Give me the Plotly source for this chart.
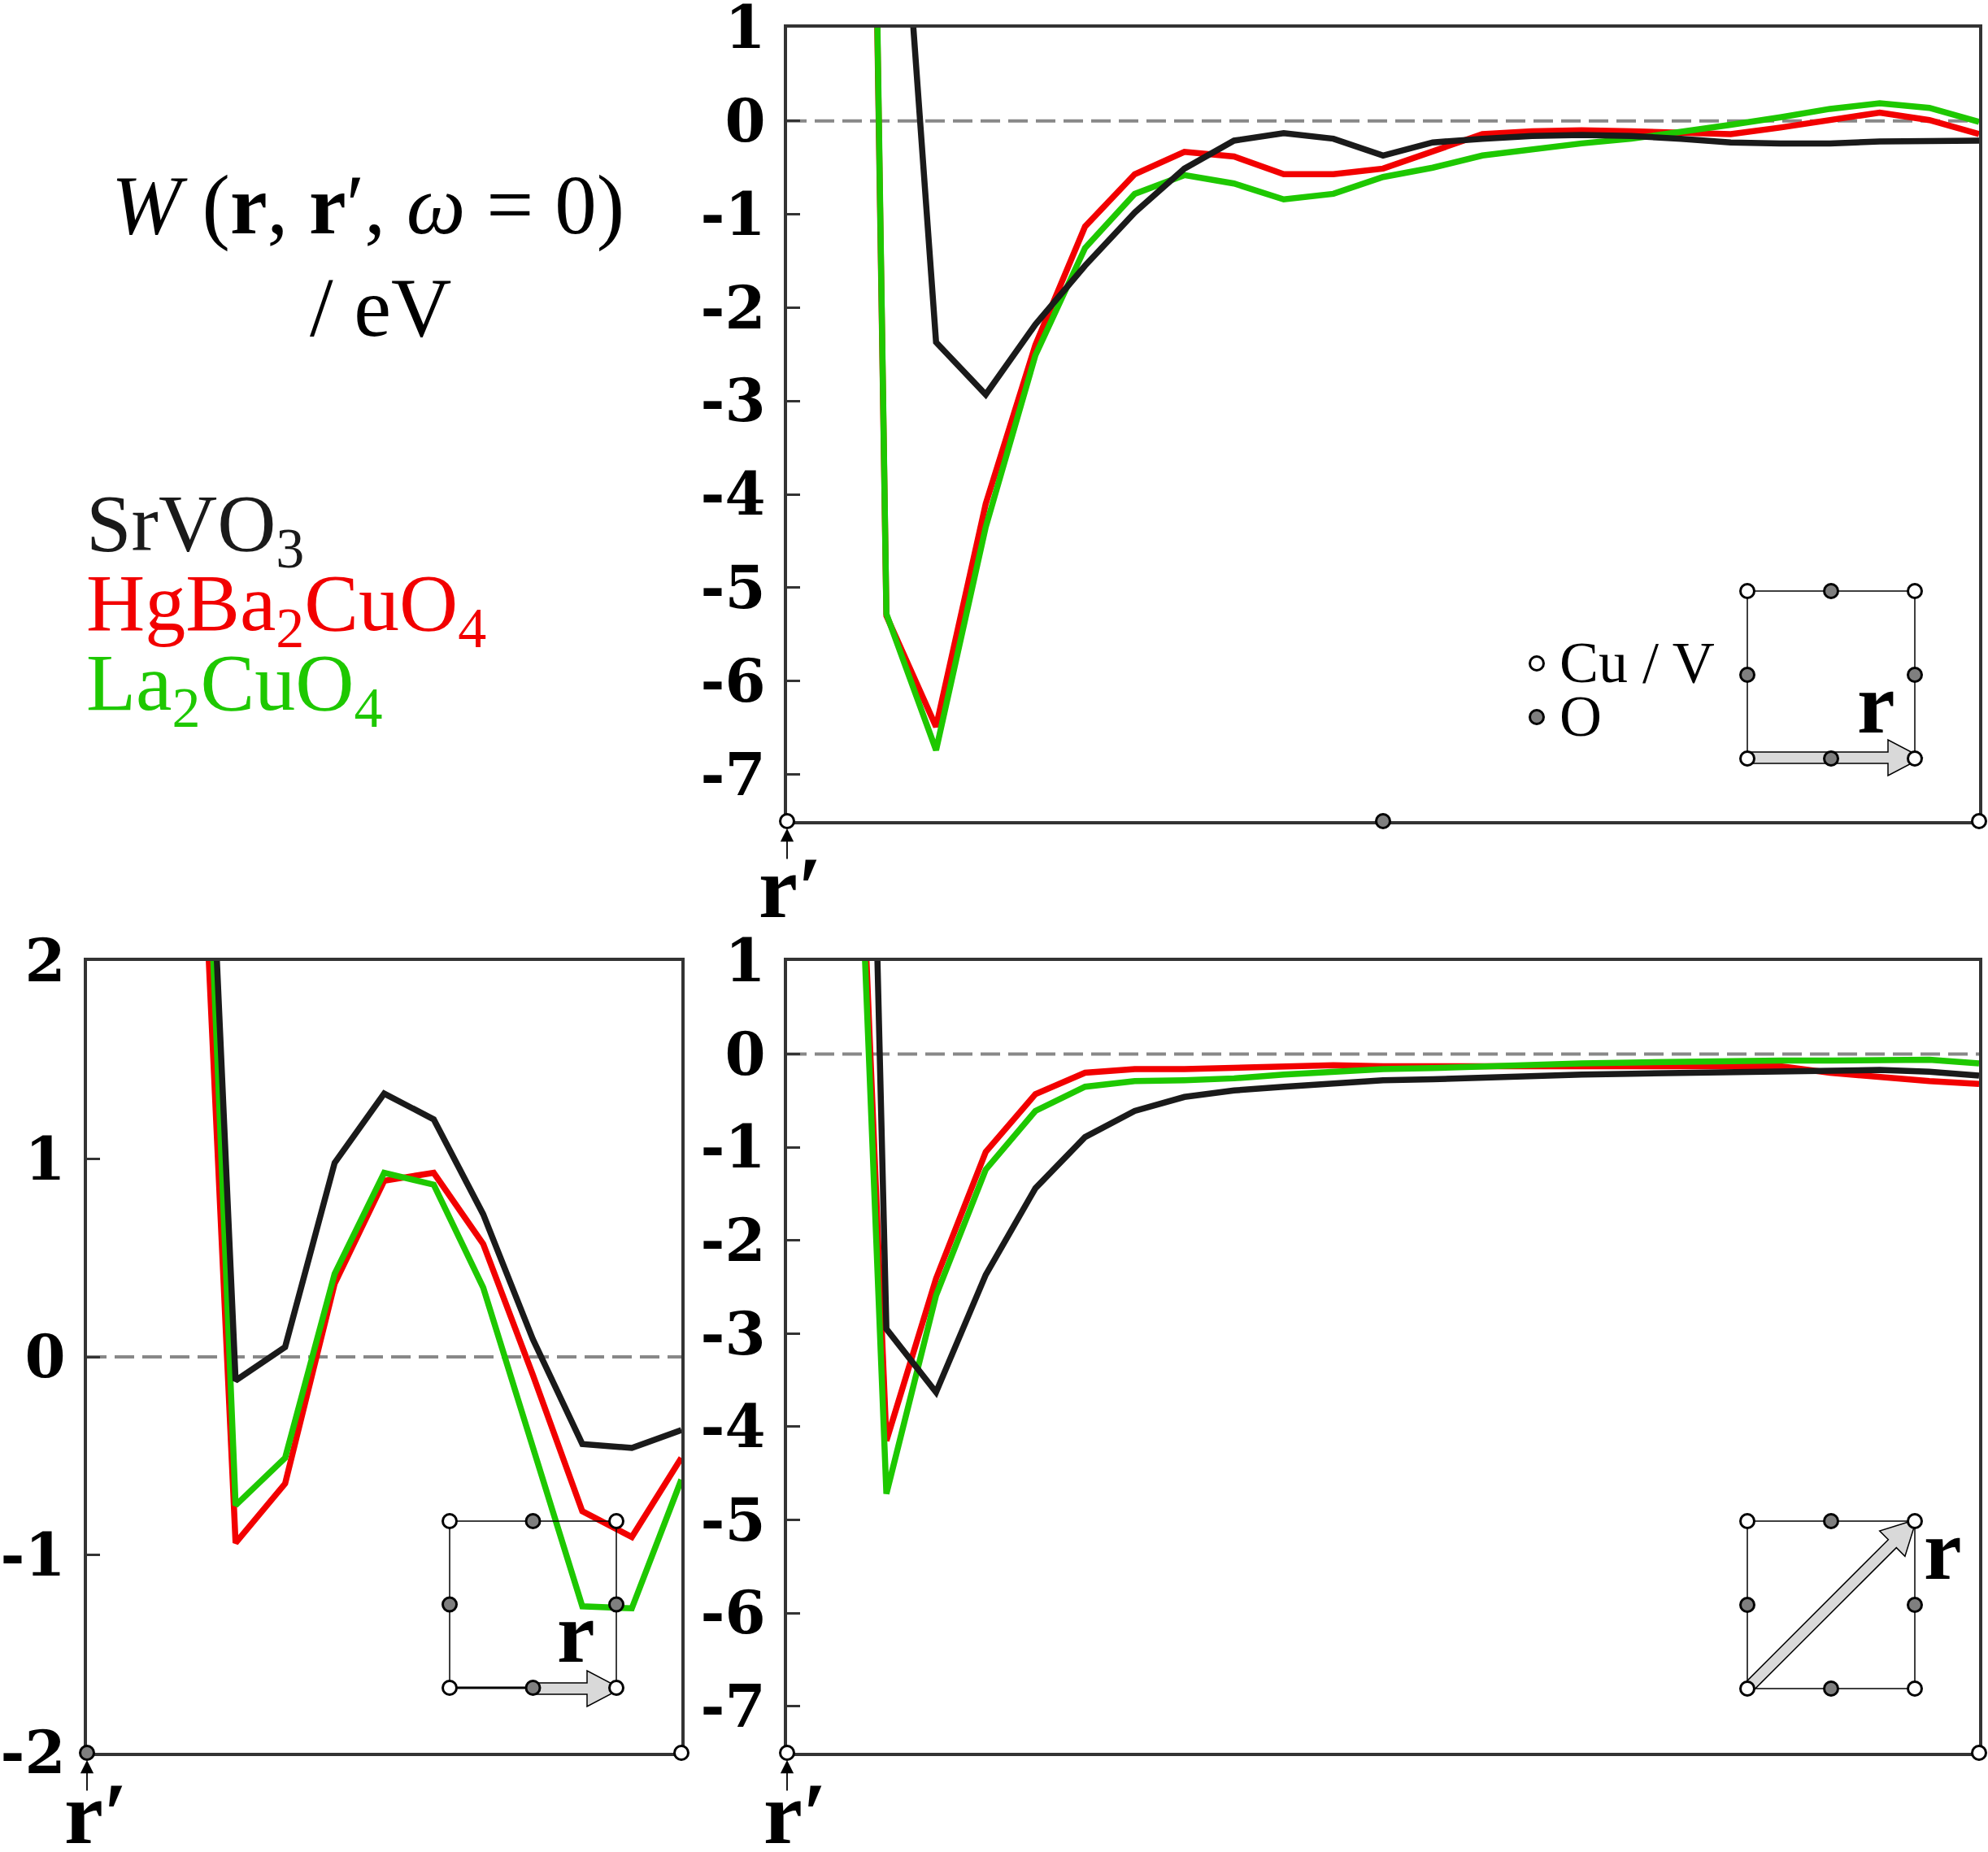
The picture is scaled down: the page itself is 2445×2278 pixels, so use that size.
import math
import plotly.graph_objects as go

FIG_W, FIG_H = 2445, 2278

# ---------------- data ----------------
# path positions in units of a/24 (a = in-plane lattice constant)
steps_cu_o_cu = [0, 1, 2, 3, 4, 5, 6, 7, 8, 9, 10, 11, 12, 13, 14, 15, 16, 17, 18, 19, 20, 21, 22, 23, 24]
steps_o_cu = [0, 1, 2, 3, 4, 5, 6, 7, 8, 9, 10, 11, 12]
steps_diag = [0, 1, 2, 3, 4, 5, 6, 7, 8, 9, 10, 11, 12, 13, 14, 15, 16, 17, 18, 19, 20, 21, 22, 23, 24]

# W(r, r', w=0) in eV, r' on Cu/V, r along x (Cu -> O -> Cu)
w_x_srvo3 = [40.0, 15.0, 5.0, -2.37, -2.93, -2.18, -1.55, -0.98, -0.51, -0.21, -0.13, -0.19, -0.37,
             -0.23, -0.19, -0.16, -0.15, -0.16, -0.19, -0.23, -0.24, -0.24, -0.22, -0.21, -0.21]
w_x_hgba2cuo4 = [60.0, 29.0, -5.30, -6.49, -4.10, -2.40, -1.13, -0.57, -0.33, -0.38, -0.57, -0.57, -0.51,
                 -0.33, -0.14, -0.11, -0.10, -0.11, -0.12, -0.14, -0.07, 0.01, 0.09, 0.01, -0.14]
w_x_la2cuo4 = [60.0, 29.6, -5.28, -6.74, -4.35, -2.51, -1.36, -0.78, -0.58, -0.67, -0.84, -0.78, -0.60,
               -0.50, -0.37, -0.30, -0.24, -0.19, -0.12, -0.04, 0.04, 0.13, 0.19, 0.14, -0.01]

# r' on O, r along x (O -> Cu)
w_o_srvo3 = [60.0, 20.0, 5.5, -0.12, 0.05, 0.98, 1.33, 1.20, 0.72, 0.09, -0.44, -0.46, -0.37]
w_o_hgba2cuo4 = [60.0, 20.0, 4.5, -0.94, -0.64, 0.37, 0.89, 0.93, 0.57, -0.09, -0.78, -0.91, -0.51]
w_o_la2cuo4 = [60.0, 20.0, 5.37, -0.75, -0.51, 0.42, 0.93, 0.87, 0.35, -0.45, -1.26, -1.27, -0.62]

# r' on Cu/V, r along the diagonal (Cu -> Cu)
w_d_srvo3 = [40.0, 19.0, -2.95, -3.63, -2.37, -1.44, -0.89, -0.61, -0.46, -0.39, -0.35, -0.31, -0.28,
             -0.27, -0.25, -0.24, -0.22, -0.21, -0.20, -0.20, -0.19, -0.18, -0.17, -0.19, -0.23]
w_d_hgba2cuo4 = [40.0, 8.7, -4.15, -2.41, -1.05, -0.43, -0.20, -0.16, -0.16, -0.15, -0.13, -0.12, -0.13,
                 -0.13, -0.14, -0.14, -0.13, -0.13, -0.13, -0.13, -0.13, -0.20, -0.25, -0.29, -0.32]
w_d_la2cuo4 = [40.0, 8.6, -4.72, -2.59, -1.24, -0.61, -0.35, -0.29, -0.28, -0.26, -0.22, -0.19, -0.16,
               -0.15, -0.13, -0.12, -0.10, -0.09, -0.08, -0.08, -0.07, -0.07, -0.07, -0.06, -0.10]

materials = ["SrVO<sub>3</sub>", "HgBa<sub>2</sub>CuO<sub>4</sub>", "La<sub>2</sub>CuO<sub>4</sub>"]
colors = ["#1a1a1a", "#f20000", "#1ec800"]

ticks_big = [1, 0, -1, -2, -3, -4, -5, -6, -7]
ticktext_big = ["1", "0", "-1", "-2", "-3", "-4", "-5", "-6", "-7"]
ticks_small = [2, 1, 0, -1, -2]
ticktext_small = ["2", "1", "0", "-1", "-2"]

# atoms sitting on each path (bottom axis)
atoms_x_steps, atoms_x_kind = [0, 12, 24], ["Cu", "O", "Cu"]
atoms_o_steps, atoms_o_kind = [0, 12], ["O", "Cu"]
atoms_d_steps, atoms_d_kind = [0, 24], ["Cu", "Cu"]

# ---------------- styling ----------------
FONT = "Liberation Serif"
TICK_FONT = "DejaVu Serif"
AXC = "#333333"
ATOM_FILL = {"Cu": "white", "O": "#7f7f7f"}
LINE_W = 7.5


def dom_x(p0, p1):
    return [p0 / FIG_W, p1 / FIG_W]


def dom_y(top, bottom):
    return [1 - bottom / FIG_H, 1 - top / FIG_H]


panels = [
    dict(x="x", y="y", xd=dom_x(968, 2434), yd=dom_y(34, 1010), xr=[0, 24], yr=[-7.5, 1.0],
         tv=ticks_big, tt=ticktext_big, steps=steps_cu_o_cu,
         series=[w_x_hgba2cuo4, w_x_la2cuo4, w_x_srvo3],
         atoms=(atoms_x_steps, atoms_x_kind)),
    dict(x="x2", y="y2", xd=dom_x(107, 838), yd=dom_y(1182, 2156), xr=[0, 12], yr=[-2, 2],
         tv=ticks_small, tt=ticktext_small, steps=steps_o_cu,
         series=[w_o_hgba2cuo4, w_o_la2cuo4, w_o_srvo3],
         atoms=(atoms_o_steps, atoms_o_kind)),
    dict(x="x3", y="y3", xd=dom_x(968, 2434), yd=dom_y(1182, 2156), xr=[0, 24], yr=[-7.5, 1.0],
         tv=ticks_big, tt=ticktext_big, steps=steps_diag,
         series=[w_d_hgba2cuo4, w_d_la2cuo4, w_d_srvo3],
         atoms=(atoms_d_steps, atoms_d_kind)),
]
draw_colors = [colors[1], colors[2], colors[0]]

fig = go.Figure()
layout = dict(
    width=FIG_W, height=FIG_H, template="none",
    margin=dict(l=0, r=0, t=0, b=0, pad=0),
    paper_bgcolor="white", plot_bgcolor="rgba(0,0,0,0)",
    showlegend=False,
)
shapes, annotations = [], []

for i, p in enumerate(panels):
    n = "" if i == 0 else str(i + 1)
    layout["xaxis" + n] = dict(domain=p["xd"], range=p["xr"], anchor=p["y"], showline=True, mirror=True,
                               linecolor=AXC, linewidth=4, showgrid=False, zeroline=False,
                               showticklabels=False, ticks="", layer="below traces",
                               automargin=False, fixedrange=True)
    layout["yaxis" + n] = dict(domain=p["yd"], range=p["yr"], anchor=p["x"], showline=True, mirror=True,
                               linecolor=AXC, linewidth=4, showgrid=False, zeroline=False,
                               ticks="inside", ticklen=16, tickwidth=3, tickcolor=AXC,
                               tickmode="array", tickvals=p["tv"], ticktext=p["tt"],
                               tickfont=dict(family=TICK_FONT, size=72, color="black", weight="bold"),
                               ticklabelstandoff=8, ticklabeloverflow="allow", layer="below traces",
                               automargin=False, fixedrange=True)
    for vals, col in zip(p["series"], draw_colors):
        fig.add_trace(go.Scatter(x=p["steps"], y=vals, mode="lines", xaxis=p["x"], yaxis=p["y"],
                                 line=dict(color=col, width=LINE_W), hoverinfo="skip"))
    # dashed zero line
    shapes.append(dict(type="line", xref=p["x"] + " domain", yref=p["y"], x0=0, x1=1, y0=0, y1=0,
                       line=dict(color="#888888", width=4, dash="24px,10px"), layer="below"))
    # atoms along the path on the bottom axis
    st, kinds = p["atoms"]
    fig.add_trace(go.Scatter(x=st, y=[p["yr"][0]] * len(st), mode="markers", xaxis=p["x"], yaxis=p["y"],
                             cliponaxis=False, hoverinfo="skip",
                             marker=dict(size=17, color=[ATOM_FILL[k] for k in kinds],
                                         line=dict(color="black", width=3))))
    # r' arrow
    annotations.append(dict(x=p["xr"][0], y=p["yr"][0], xref=p["x"], yref=p["y"], text="",
                            showarrow=True, ax=0, ay=48, arrowhead=2, arrowsize=1.8, arrowwidth=1.8,
                            arrowcolor="black", standoff=9))

# overlay canvas in pixel coordinates for decorations
layout["xaxis4"] = dict(domain=[0, 1], range=[0, FIG_W], anchor="y4", visible=False, fixedrange=True)
layout["yaxis4"] = dict(domain=[0, 1], range=[FIG_H, 0], anchor="x4", visible=False, fixedrange=True)


def text(x, y, s, size, color="black", xanchor="center", bold=False):
    annotations.append(dict(x=x, y=y, xref="x4", yref="y4", text=s, showarrow=False,
                            xanchor=xanchor, yanchor="middle",
                            font=dict(family=FONT, size=size, color=color,
                                      weight="bold" if bold else "normal")))


# r' labels
text(972, 1091, "r′", 108, bold=True)
text(118, 2230, "r′", 108, bold=True)
text(978, 2230, "r′", 108, bold=True)

# title-like label
text(452, 252, "<i>W</i> (<b>r</b>, <b>r</b>′, <i>ω</i> = 0)", 103)
text(468, 378, "/ eV", 103)

# material legend
for j, (m, c) in enumerate(zip(materials, colors)):
    text(104, 650 + 98 * j, m, 100, color=c, xanchor="left")


def block_arrow(x0, y0, x1, y1, shaft=7, head=22, head_len=42):
    dx, dy = x1 - x0, y1 - y0
    L = math.hypot(dx, dy)
    ux, uy = dx / L, dy / L
    nx, ny = -uy, ux
    bx, by = x1 - ux * head_len, y1 - uy * head_len
    pts = [(x0 + nx * shaft, y0 + ny * shaft), (bx + nx * shaft, by + ny * shaft),
           (bx + nx * head, by + ny * head), (x1, y1), (bx - nx * head, by - ny * head),
           (bx - nx * shaft, by - ny * shaft), (x0 - nx * shaft, y0 - ny * shaft)]
    return "M " + " L ".join(f"{a:.1f},{b:.1f}" for a, b in pts) + " Z"


def lattice_inset(x0, y0, side, arrow, label, thick_bottom=False):
    x1, y1 = x0 + side, y0 + side
    shapes.append(dict(type="rect", xref="x4", yref="y4", x0=x0, x1=x1, y0=y0, y1=y1,
                       line=dict(color="black", width=1.5), fillcolor="rgba(0,0,0,0)", layer="below"))
    if thick_bottom:
        shapes.append(dict(type="line", xref="x4", yref="y4", x0=x0, x1=x1, y0=y1, y1=y1,
                           line=dict(color="black", width=3), layer="below"))
    shapes.append(dict(type="path", xref="x4", yref="y4", path=block_arrow(*arrow),
                       fillcolor="#d9d9d9", line=dict(color="black", width=1.5), layer="below"))
    xm, ym = (x0 + x1) / 2, (y0 + y1) / 2
    ax = [x0, x1, x0, x1, xm, xm, x0, x1]
    ay = [y0, y0, y1, y1, y0, y1, ym, ym]
    kinds = ["Cu"] * 4 + ["O"] * 4
    fig.add_trace(go.Scatter(x=ax, y=ay, mode="markers", xaxis="x4", yaxis="y4", cliponaxis=False,
                             hoverinfo="skip",
                             marker=dict(size=17, color=[ATOM_FILL[k] for k in kinds],
                                         line=dict(color="black", width=3))))
    text(label[0], label[1], "r", 105, bold=True)


lattice_inset(2149, 727, 206, (2149, 932, 2364, 932), (2307, 865))
lattice_inset(553, 1871, 205, (655, 2077, 764, 2077), (708, 2008), thick_bottom=True)
lattice_inset(2149, 1871, 206, (2149, 2077, 2357, 1869), (2389, 1906))

# atom legend
fig.add_trace(go.Scatter(x=[1890, 1890], y=[816, 882], mode="markers", xaxis="x4", yaxis="y4",
                         cliponaxis=False, hoverinfo="skip",
                         marker=dict(size=17, color=[ATOM_FILL["Cu"], ATOM_FILL["O"]],
                                     line=dict(color="black", width=3))))
text(1916, 815, "Cu / V", 72, xanchor="left")
text(1916, 881, "O", 72, xanchor="left")

layout["shapes"] = shapes
layout["annotations"] = annotations
fig.update_layout(**layout)
fig.write_html("out.html")
